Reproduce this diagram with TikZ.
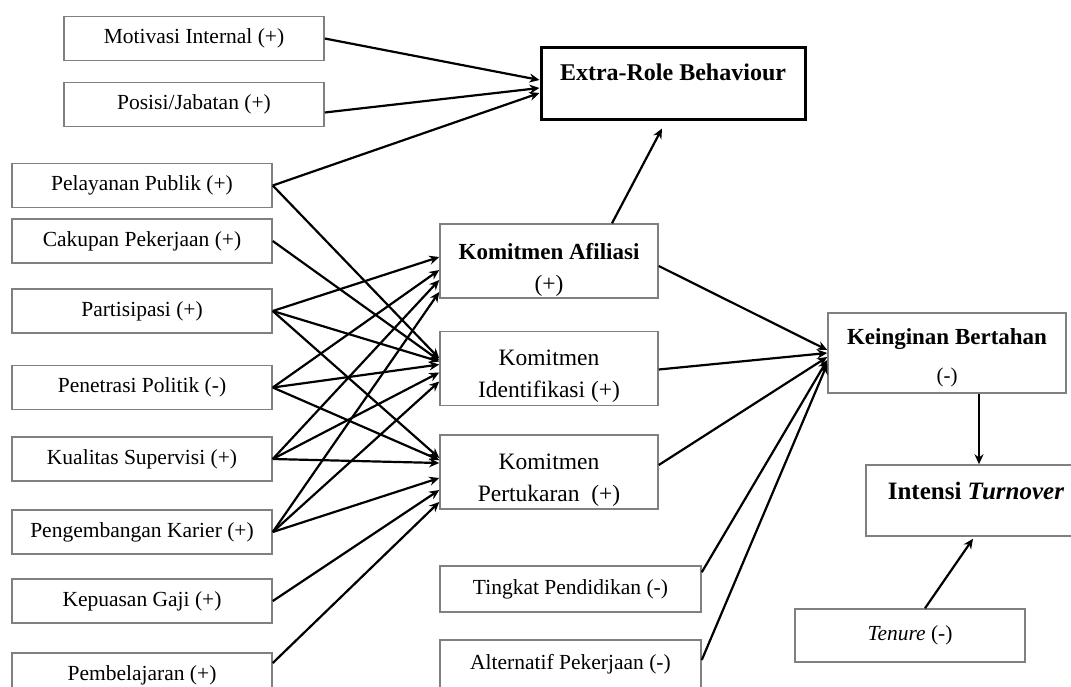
\documentclass[tikz,border=0pt]{standalone}
\usepackage{fontspec}
\setmainfont{Liberation Serif}
\usetikzlibrary{arrows.meta}

\begin{document}
\begin{tikzpicture}[x=1pt,y=-1pt,
    box/.style={draw=black!50,line width=1.5pt,fill=white,inner sep=0pt,
      minimum width=260pt,minimum height=44pt,align=center,
      font=\fontsize{21.5}{24}\selectfont},
    midbox/.style={box,minimum width=218pt,minimum height=74pt,
      font=\fontsize{23.5}{32}\selectfont},
    link/.style={line width=2.2pt,-{Stealth[length=10pt,width=9pt]}}]
    \fill [white] (0,0) rectangle (1071,686);
    \useasboundingbox (0,0) rectangle (1071,686);
    \clip (0,0) rectangle (1071,686);
    \node [box] (motivasi) at (194,38.5) {Motivasi Internal (+)};
    \node [box] (posisi) at (194,104.5) {Posisi/Jabatan (+)};
    \node [box] (pelayanan) at (142,185.5) {Pelayanan Publik (+)};
    \node [box] (cakupan) at (142,241) {Cakupan Pekerjaan (+)};
    \node [box] (partisipasi) at (142,311) {Partisipasi (+)};
    \node [box] (penetrasi) at (142,387.5) {Penetrasi Politik (-)};
    \node [box] (kualitas) at (142,459) {Kualitas Supervisi (+)};
    \node [box] (karier) at (142,532) {Pengembangan Karier (+)};
    \node [box] (gaji) at (142,601) {Kepuasan Gaji (+)};
    \node [box] (belajar) at (142,675) {Pembelajaran (+)};
    \node [box,draw=black,line width=3pt,minimum width=264pt,minimum height=72pt,text depth=22pt,
      font=\bfseries\fontsize{24}{28}\selectfont] (erb) at (673,83) {Extra-Role Behaviour};
    \node [midbox] (afiliasi) at (549,261)
      {\rule{0pt}{33pt}\textbf{\fontsize{23}{32}\selectfont Komitmen Afiliasi}\\(+)};
    \node [midbox] (identifikasi) at (549,368.5) {\rule{0pt}{30pt}Komitmen\\Identifikasi (+)};
    \node [midbox] (pertukaran) at (549,472) {\rule{0pt}{32pt}Komitmen\\Pertukaran\ \ (+)};
    \node [box,minimum width=261pt,minimum height=46pt] (pendidikan) at (570.5,589) {Tingkat Pendidikan (-)};
    \node [box,minimum width=261pt,minimum height=48pt] (alternatif) at (570.5,664) {Alternatif Pekerjaan (-)};
    \node [box,minimum width=238pt,minimum height=80pt,font=\fontsize{21}{38}\selectfont] (bertahan) at (947,353)
      {\rule{0pt}{25pt}\textbf{\fontsize{23}{38}\selectfont Keinginan Bertahan}\\(-)};
    \node [box,minimum width=220pt,minimum height=71pt,text depth=20pt,
      font=\bfseries\fontsize{25}{30}\selectfont] (turnover) at (976,500.5) {Intensi \textit{Turnover}};
    \node [box,minimum width=230pt,minimum height=53pt] (tenure) at (910,635.5) {\textit{Tenure} (-)};
    \draw [link] (motivasi.east) -- ([yshift=3pt]erb.west);
    \draw [link] ([yshift=-8pt]posisi.east) -- ([yshift=-5pt]erb.west);
    \draw [link] (pelayanan.east) -- ([yshift=-10pt]erb.west);
    \draw [link] ([xshift=63pt]afiliasi.north) -- ([xshift=-11pt,yshift=-8pt]erb.south);
    \draw [link] (partisipasi.east) -- ([yshift=4pt]afiliasi.west);
    \draw [link] (penetrasi.east) -- ([yshift=-9pt]afiliasi.west);
    \draw [link] (kualitas.east) -- ([yshift=-19pt]afiliasi.west);
    \draw [link] (karier.east) -- ([yshift=-31pt]afiliasi.west);
    \draw [link] (pelayanan.east) -- ([yshift=10pt]identifikasi.west);
    \draw [link] (cakupan.east) -- ([yshift=8pt]identifikasi.west);
    \draw [link] (partisipasi.east) -- ([yshift=7pt]identifikasi.west);
    \draw [link] (penetrasi.east) -- ([yshift=4pt]identifikasi.west);
    \draw [link] (kualitas.east) -- ([yshift=-4pt]identifikasi.west);
    \draw [link] (karier.east) -- ([yshift=-13pt]identifikasi.west);
    \draw [link] (partisipasi.east) -- ([yshift=14pt]pertukaran.west);
    \draw [link] (penetrasi.east) -- ([yshift=12pt]pertukaran.west);
    \draw [link] (kualitas.east) -- ([yshift=9pt]pertukaran.west);
    \draw [link] (karier.east) -- ([yshift=-6pt]pertukaran.west);
    \draw [link] (gaji.east) -- ([yshift=-18pt]pertukaran.west);
    \draw [link] ([yshift=12pt]belajar.east) -- ([yshift=-30pt]pertukaran.west);
    \draw [link] ([yshift=-5pt]afiliasi.east) -- ([yshift=3pt]bertahan.west);
    \draw [link] ([yshift=-1pt]identifikasi.east) -- (bertahan.west);
    \draw [link] ([yshift=7pt]pertukaran.east) -- ([yshift=-4pt]bertahan.west);
    \draw [link] ([yshift=-7pt]pendidikan.north east) -- ([yshift=-7pt]bertahan.west);
    \draw [link] ([yshift=4pt]alternatif.east) -- ([yshift=-11pt]bertahan.west);
    \draw [link] ([xshift=32pt]bertahan.south) -- ([xshift=3pt]turnover.north);
    \draw [link] ([xshift=15pt]tenure.north) -- ([xshift=-3pt,yshift=-2pt]turnover.south);
\end{tikzpicture}
\end{document}
